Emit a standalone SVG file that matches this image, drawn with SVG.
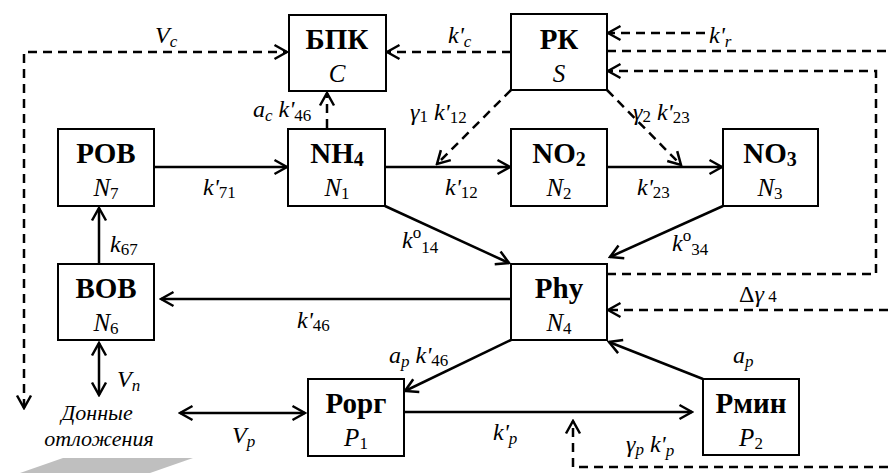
<svg xmlns="http://www.w3.org/2000/svg" width="888" height="473" viewBox="0 0 888 473">
  <defs>
    <marker id="ah" markerUnits="userSpaceOnUse" viewBox="0 0 16 18" refX="14" refY="9" markerWidth="16" markerHeight="18" orient="auto-start-reverse">
      <path d="M1.5,2 L14,9 L1.5,16" fill="none" stroke="#000" stroke-width="2.5"/>
    </marker>
  </defs>

  <!-- sediment plate -->
  <polygon points="20,473 63,458 193,458 150,473" fill="#bfbfbf"/>

  <g id="connectors" fill="none" stroke="#000" stroke-width="2.5">
    <!-- solid fluxes -->
    <path d="M154,167 L287,167" marker-end="url(#ah)"/>
    <path d="M385,167 L510,167" marker-end="url(#ah)"/>
    <path d="M607,167 L722,167" marker-end="url(#ah)"/>
    <path d="M385,206 L509,263" marker-end="url(#ah)"/>
    <path d="M723,206 L610,257" marker-end="url(#ah)"/>
    <path d="M511,299 L161,299" marker-end="url(#ah)"/>
    <path d="M99,264 L99,208" marker-end="url(#ah)"/>
    <path d="M511,340 L405,391" marker-end="url(#ah)"/>
    <path d="M404,412 L692,412" marker-end="url(#ah)"/>
    <path d="M703,379 L609,342" marker-end="url(#ah)"/>
    <path d="M99,343 L99,395" marker-start="url(#ah)" marker-end="url(#ah)"/>
    <path d="M180,413 L305,413" marker-start="url(#ah)" marker-end="url(#ah)"/>
    <!-- dashed controls -->
    <g stroke-dasharray="9 6">
      <path d="M24,408 L24,52 L287,52" marker-start="url(#ah)" marker-end="url(#ah)"/>
      <path d="M511,52 L387,52" marker-end="url(#ah)"/>
      <path d="M705,33 L608,33" marker-end="url(#ah)"/>
      <path d="M607,51 L888,51"/>
      <path d="M607,274 L876,274 L876,71 L608,71" marker-end="url(#ah)"/>
      <path d="M888,310 L608,310" marker-end="url(#ah)"/>
      <path d="M888,467 L573,467 L573,421" marker-end="url(#ah)"/>
      <path d="M511,90 L437,164" marker-end="url(#ah)"/>
      <path d="M607,90 L681,165" marker-end="url(#ah)"/>
      <path d="M327,128 L327,93" marker-end="url(#ah)"/>
    </g>
  </g>

  <g id="bpk">
    <rect x="289" y="15" width="97" height="76" fill="#fff" stroke="#000" stroke-width="2"/>
    <text x="337" y="49" font-size="29" style="font-family: 'Liberation Serif', serif; font-weight: bold" text-anchor="middle">БПК</text>
    <text x="337" y="82" font-size="25" style="font-family: 'Liberation Serif', serif; font-style: italic" text-anchor="middle">C</text>
  </g>
  <g id="rk">
    <rect x="511" y="14" width="96" height="76" fill="#fff" stroke="#000" stroke-width="2"/>
    <text x="559" y="49" font-size="29" style="font-family: 'Liberation Serif', serif; font-weight: bold" text-anchor="middle">РК</text>
    <text x="559" y="82" font-size="25" style="font-family: 'Liberation Serif', serif; font-style: italic" text-anchor="middle">S</text>
  </g>
  <g id="rov">
    <rect x="58" y="129" width="96" height="77" fill="#fff" stroke="#000" stroke-width="2"/>
    <text x="106" y="163" font-size="29" style="font-family: 'Liberation Serif', serif; font-weight: bold" text-anchor="middle">РОВ</text>
    <text x="106" y="196" font-size="25" style="font-family: 'Liberation Serif', serif; font-style: italic" text-anchor="middle">N<tspan font-size="17" style="font-style: normal" dy="3">7</tspan></text>
  </g>
  <g id="nh4">
    <rect x="288" y="129" width="97" height="77" fill="#fff" stroke="#000" stroke-width="2"/>
    <text x="337" y="163" font-size="29" style="font-family: 'Liberation Serif', serif; font-weight: bold" text-anchor="middle">NH<tspan font-size="20" dy="3">4</tspan></text>
    <text x="337" y="196" font-size="25" style="font-family: 'Liberation Serif', serif; font-style: italic" text-anchor="middle">N<tspan font-size="17" style="font-style: normal" dy="3">1</tspan></text>
  </g>
  <g id="no2">
    <rect x="511" y="129" width="96" height="77" fill="#fff" stroke="#000" stroke-width="2"/>
    <text x="559" y="163" font-size="29" style="font-family: 'Liberation Serif', serif; font-weight: bold" text-anchor="middle">NO<tspan font-size="20" dy="3">2</tspan></text>
    <text x="559" y="196" font-size="25" style="font-family: 'Liberation Serif', serif; font-style: italic" text-anchor="middle">N<tspan font-size="17" style="font-style: normal" dy="3">2</tspan></text>
  </g>
  <g id="no3">
    <rect x="723" y="129" width="95" height="77" fill="#fff" stroke="#000" stroke-width="2"/>
    <text x="770" y="163" font-size="29" style="font-family: 'Liberation Serif', serif; font-weight: bold" text-anchor="middle">NO<tspan font-size="20" dy="3">3</tspan></text>
    <text x="770" y="196" font-size="25" style="font-family: 'Liberation Serif', serif; font-style: italic" text-anchor="middle">N<tspan font-size="17" style="font-style: normal" dy="3">3</tspan></text>
  </g>
  <g id="vov">
    <rect x="58" y="264" width="96" height="76" fill="#fff" stroke="#000" stroke-width="2"/>
    <text x="106" y="298" font-size="29" style="font-family: 'Liberation Serif', serif; font-weight: bold" text-anchor="middle">ВОВ</text>
    <text x="106" y="331" font-size="25" style="font-family: 'Liberation Serif', serif; font-style: italic" text-anchor="middle">N<tspan font-size="17" style="font-style: normal" dy="3">6</tspan></text>
  </g>
  <g id="phy">
    <rect x="511" y="264" width="96" height="76" fill="#fff" stroke="#000" stroke-width="2"/>
    <text x="559" y="298" font-size="29" style="font-family: 'Liberation Serif', serif; font-weight: bold" text-anchor="middle">Phy</text>
    <text x="559" y="331" font-size="25" style="font-family: 'Liberation Serif', serif; font-style: italic" text-anchor="middle">N<tspan font-size="17" style="font-style: normal" dy="3">4</tspan></text>
  </g>
  <g id="porg">
    <rect x="308" y="379" width="96" height="77" fill="#fff" stroke="#000" stroke-width="2"/>
    <text x="356" y="413" font-size="29" style="font-family: 'Liberation Serif', serif; font-weight: bold" text-anchor="middle">Рорг</text>
    <text x="356" y="446" font-size="25" style="font-family: 'Liberation Serif', serif; font-style: italic" text-anchor="middle">P<tspan font-size="17" style="font-style: normal" dy="3">1</tspan></text>
  </g>
  <g id="pmin">
    <rect x="703" y="379" width="96" height="76" fill="#fff" stroke="#000" stroke-width="2"/>
    <text x="751" y="413" font-size="29" style="font-family: 'Liberation Serif', serif; font-weight: bold" text-anchor="middle">Рмин</text>
    <text x="751" y="446" font-size="25" style="font-family: 'Liberation Serif', serif; font-style: italic" text-anchor="middle">P<tspan font-size="17" style="font-style: normal" dy="3">2</tspan></text>
  </g>
  <g id="sediment">
    <text x="97" y="420" font-size="22" style="font-family: 'Liberation Serif', serif; font-style: italic" text-anchor="middle">Донные</text>
    <text x="99" y="446" font-size="22" style="font-family: 'Liberation Serif', serif; font-style: italic" text-anchor="middle">отложения</text>
  </g>

  <g id="labels">
    <text x="155" y="43" font-size="24" style="font-family: 'Liberation Serif', serif; font-style: italic">V<tspan font-size="17" dy="4">c</tspan></text>
    <text x="448" y="43" font-size="24" style="font-family: 'Liberation Serif', serif; font-style: italic">k'<tspan font-size="17" dy="4">c</tspan></text>
    <text x="709" y="43" font-size="24" style="font-family: 'Liberation Serif', serif; font-style: italic">k'<tspan font-size="17" dy="4">r</tspan></text>
    <text x="253" y="117" font-size="24" style="font-family: 'Liberation Serif', serif; font-style: italic">a<tspan font-size="17" dy="4">c</tspan><tspan dy="-4"> k'</tspan><tspan font-size="17" style="font-style: normal" dy="4">46</tspan></text>
    <text x="410" y="120" font-size="24" style="font-family: 'Liberation Serif', serif; font-style: italic">γ<tspan font-size="17" style="font-style: normal" dy="2">1</tspan><tspan dy="-2"> k'</tspan><tspan font-size="17" style="font-style: normal" dy="3">12</tspan></text>
    <text x="633" y="120" font-size="24" style="font-family: 'Liberation Serif', serif; font-style: italic">γ<tspan font-size="17" style="font-style: normal" dy="2">2</tspan><tspan dy="-2"> k'</tspan><tspan font-size="17" style="font-style: normal" dy="3">23</tspan></text>
    <text x="203" y="195" font-size="24" style="font-family: 'Liberation Serif', serif; font-style: italic">k'<tspan font-size="17" style="font-style: normal" dy="3">71</tspan></text>
    <text x="445" y="195" font-size="24" style="font-family: 'Liberation Serif', serif; font-style: italic">k'<tspan font-size="17" style="font-style: normal" dy="3">12</tspan></text>
    <text x="637" y="195" font-size="24" style="font-family: 'Liberation Serif', serif; font-style: italic">k'<tspan font-size="17" style="font-style: normal" dy="3">23</tspan></text>
    <text x="402" y="248" font-size="24" style="font-family: 'Liberation Serif', serif; font-style: italic">k<tspan font-size="17" style="font-style: normal" dy="-10">o</tspan><tspan font-size="17" style="font-style: normal" dy="15">14</tspan></text>
    <text x="672" y="251" font-size="24" style="font-family: 'Liberation Serif', serif; font-style: italic">k<tspan font-size="17" style="font-style: normal" dy="-10">o</tspan><tspan font-size="17" style="font-style: normal" dy="14">34</tspan></text>
    <text x="110" y="252" font-size="24" style="font-family: 'Liberation Serif', serif; font-style: italic">k<tspan font-size="17" style="font-style: normal" dy="3">67</tspan></text>
    <text x="739" y="302" font-size="24" style="font-family: 'Liberation Serif', serif; font-style: italic"><tspan style="font-style: normal">Δ</tspan>γ<tspan font-size="17" style="font-style: normal"> 4</tspan></text>
    <text x="297" y="328" font-size="24" style="font-family: 'Liberation Serif', serif; font-style: italic">k'<tspan font-size="17" style="font-style: normal" dy="3">46</tspan></text>
    <text x="389" y="363" font-size="24" style="font-family: 'Liberation Serif', serif; font-style: italic">a<tspan font-size="17" dy="4">p</tspan><tspan dy="-4"> k'</tspan><tspan font-size="17" style="font-style: normal" dy="3">46</tspan></text>
    <text x="733" y="363" font-size="24" style="font-family: 'Liberation Serif', serif; font-style: italic">a<tspan font-size="17" dy="4">p</tspan></text>
    <text x="117" y="387" font-size="24" style="font-family: 'Liberation Serif', serif; font-style: italic">V<tspan font-size="17" dy="4">n</tspan></text>
    <text x="232" y="443" font-size="24" style="font-family: 'Liberation Serif', serif; font-style: italic">V<tspan font-size="17" dy="4">p</tspan></text>
    <text x="493" y="440" font-size="24" style="font-family: 'Liberation Serif', serif; font-style: italic">k'<tspan font-size="17" dy="4">p</tspan></text>
    <text x="626" y="452" font-size="24" style="font-family: 'Liberation Serif', serif; font-style: italic">γ<tspan font-size="17" dy="3">p</tspan><tspan dy="-3"> k'</tspan><tspan font-size="17" dy="4">p</tspan></text>
  </g>
</svg>
